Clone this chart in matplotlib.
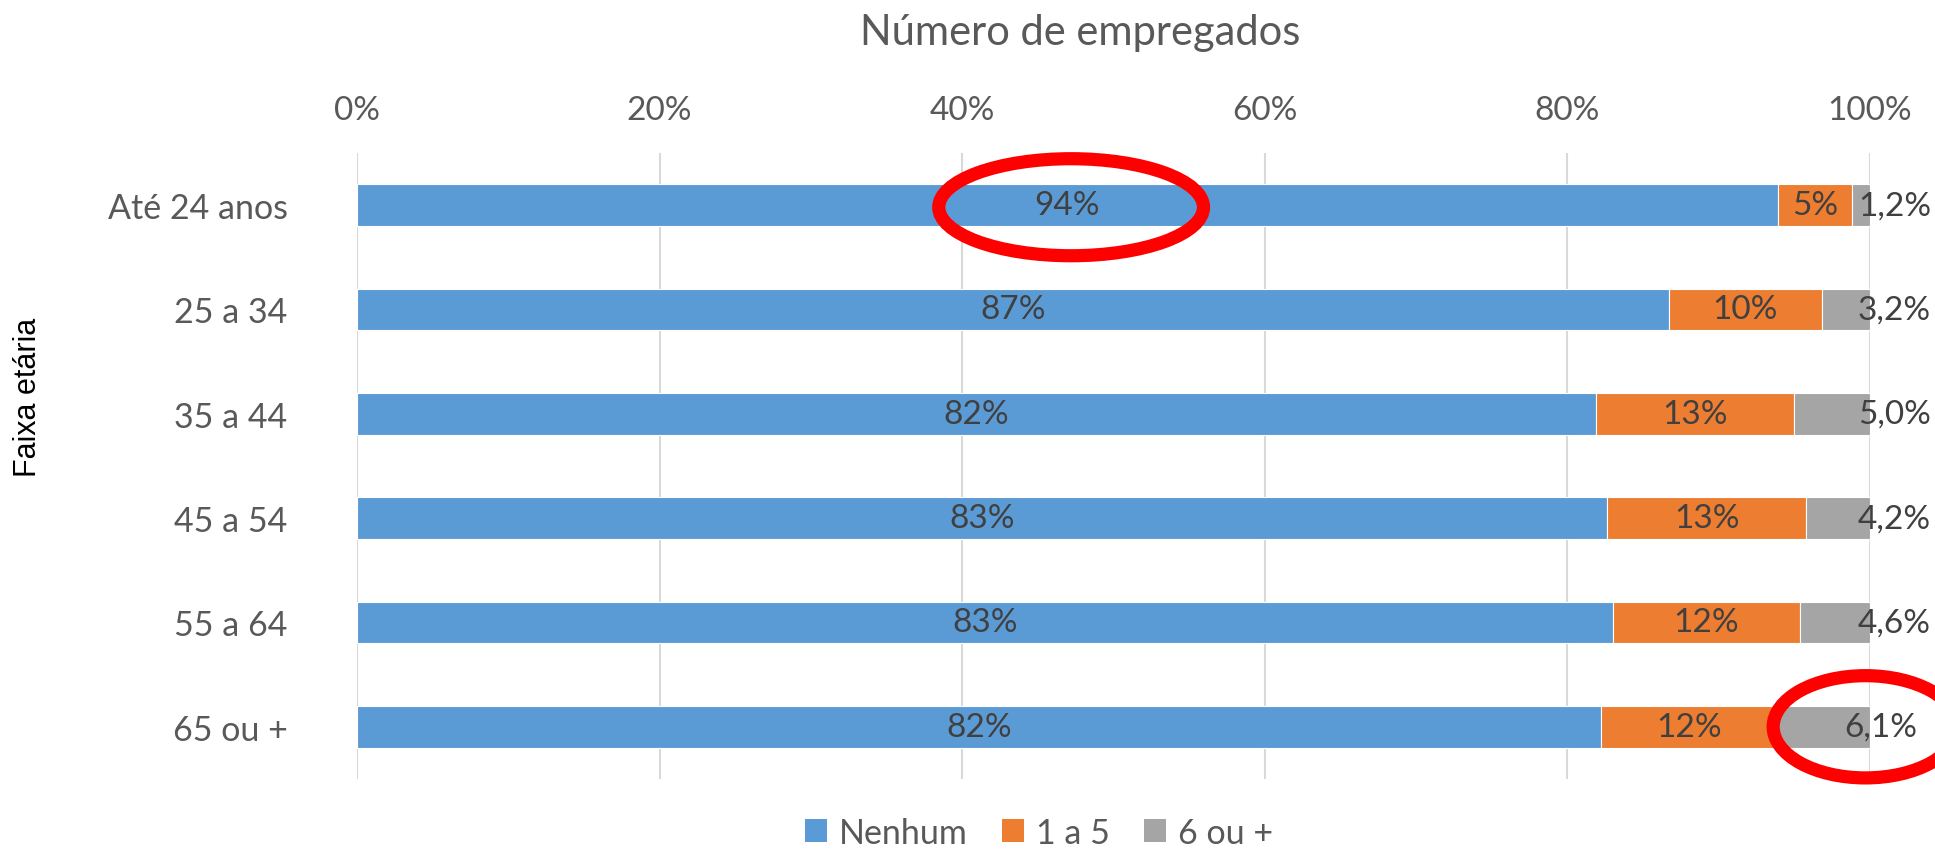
import matplotlib.pyplot as plt
from matplotlib.patches import Ellipse, Patch
import numpy as np

# data
faixas = ['Até 24 anos', '25 a 34', '35 a 44', '45 a 54', '55 a 64', '65 ou +']
series_names = ['Nenhum', '1 a 5', '6 ou +']
nenhum = [93.9, 86.7, 81.9, 82.6, 83.0, 82.2]
um_a_cinco = [4.9, 10.1, 13.1, 13.2, 12.4, 11.7]
seis_ou_mais = [1.2, 3.2, 5.0, 4.2, 4.6, 6.1]
xticks = [0, 20, 40, 60, 80, 100]

colors = ['#5B9BD5', '#ED7D31', '#A5A5A5']
txt_gray = '#595959'
lbl_color = '#404040'

plt.rcParams['font.family'] = ['Lato', 'DejaVu Sans']

fig = plt.figure(figsize=(19.35, 8.54), dpi=100)
ax = fig.add_axes([0.1845, 0.0867, 0.9664 - 0.1845, 0.8197 - 0.0867])

y = np.arange(len(faixas))
left = np.zeros(len(faixas))
for vals, col in zip([nenhum, um_a_cinco, seis_ou_mais], colors):
    ax.barh(y, vals, left=left, height=0.4, color=col, edgecolor='white',
            linewidth=0.8, zorder=2)
    left = left + np.array(vals)

# data labels
for i in range(len(faixas)):
    ax.text(nenhum[i] / 2, i, f'{nenhum[i]:.0f}%', ha='center', va='center',
            fontsize=24, color=lbl_color, zorder=3)
    ax.text(nenhum[i] + um_a_cinco[i] / 2, i, f'{um_a_cinco[i]:.0f}%',
            ha='center', va='center', fontsize=24, color=lbl_color, zorder=3)
    gx = 98.3 if i == len(faixas) - 1 else 99.2
    ax.text(gx, i, f'{seis_ou_mais[i]:.1f}%'.replace('.', ','), ha='left',
            va='center', fontsize=24, color=lbl_color, zorder=3, clip_on=False)

ax.set_xlim(0, 100)
ax.set_ylim(len(faixas) - 0.5, -0.5)
ax.set_yticks(y)
ax.set_yticklabels(faixas, fontsize=24.5, color=txt_gray)
ax.xaxis.tick_top()
ax.set_xticks(xticks)
ax.set_xticklabels([f'{t}%' for t in xticks], fontsize=24, color=txt_gray)
ax.tick_params(length=0, axis='x', pad=20)
ax.tick_params(length=0, axis='y', pad=50)
ax.grid(axis='x', color='#D9D9D9', linewidth=1.5, zorder=0)
for s in ax.spines.values():
    s.set_visible(False)

fig.text(0.558, 0.961, 'Número de empregados', ha='center', va='center',
         fontsize=30, color=txt_gray)
fig.text(0.0145, 0.535, 'Faixa etária', rotation=90, ha='center', va='center',
         fontsize=22, family='Liberation Sans', color='black')

# red highlight ellipses
ax.add_patch(Ellipse((47.2, 0.02), 17.5, 0.93, fill=False, edgecolor='#FF0000',
                     linewidth=9.5, zorder=4, clip_on=False))
ax.add_patch(Ellipse((99.7, 5), 12.2, 0.98, fill=False, edgecolor='#FF0000',
                     linewidth=9.5, zorder=4, clip_on=False))

handles = [Patch(facecolor=c, edgecolor='none') for c in colors]
fig.legend(handles, series_names, loc='center', bbox_to_anchor=(0.537, 0.024),
           ncol=3, frameon=False, fontsize=24.5, labelcolor=txt_gray,
           handlelength=0.65, handleheight=0.65, handletextpad=0.35,
           columnspacing=1.0, borderpad=0)

fig.savefig('out.png', dpi=100)
